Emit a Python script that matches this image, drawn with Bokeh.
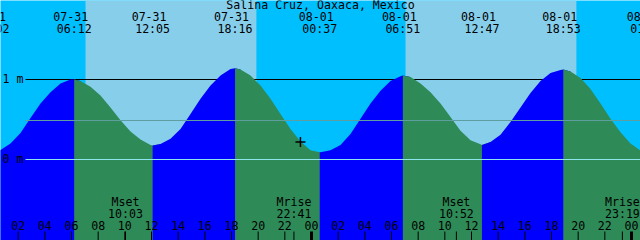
from bokeh.plotting import figure
from bokeh.models import Range1d
from bokeh.core.properties import value
from bokeh.embed import file_html
from bokeh.resources import INLINE

# ---------------- data ----------------
title = "Salina Cruz, Oaxaca, Mexico"

tide_dates = ["07-31", "07-31", "07-31", "07-31", "08-01", "08-01", "08-01", "08-01", "08-02"]
tide_times = ["00:02", "06:12", "12:05", "18:16", "00:37", "06:51", "12:47", "18:53", "01:13"]
tide_kinds = ["L", "H", "L", "H", "L", "H", "L", "H", "L"]
tide_heights = [0.095, 1.00, 0.175, 1.14, 0.09, 1.05, 0.18, 1.125, 0.09]

# tide height (m), hours counted from 07-31 00:00
curve_hours = [0.675, 1.425, 2.175, 2.925, 3.675, 4.425, 5.175, 5.925, 6.675, 7.425,
               8.175, 8.925, 9.675, 10.425, 11.175, 11.925, 12.675, 13.425, 14.175, 14.925,
               15.675, 16.425, 17.175, 17.925, 18.675, 19.425, 20.175, 20.925, 21.675, 22.425,
               23.175, 23.925, 24.675, 25.425, 26.175, 26.925, 27.675, 28.425, 29.175, 29.925,
               30.675, 31.425, 32.175, 32.925, 33.675, 34.425, 35.175, 35.925, 36.675, 37.425,
               38.175, 38.925, 39.675, 40.425, 41.175, 41.925, 42.675, 43.425, 44.175, 44.925,
               45.675, 46.425, 47.175, 47.925, 48.675]
curve_heights = [0.12, 0.20, 0.33, 0.52, 0.70, 0.84, 0.95, 1.00, 0.98, 0.91,
                 0.80, 0.65, 0.49, 0.35, 0.25, 0.18, 0.195, 0.26, 0.38, 0.57,
                 0.76, 0.925, 1.05, 1.13, 1.125, 1.05, 0.925, 0.76, 0.57, 0.38,
                 0.225, 0.115, 0.09, 0.115, 0.18, 0.32, 0.51, 0.70, 0.86, 0.98,
                 1.04, 1.03, 0.95, 0.84, 0.70, 0.53, 0.36, 0.24, 0.19, 0.22,
                 0.31, 0.47, 0.65, 0.83, 0.98, 1.08, 1.12, 1.10, 1.02, 0.88,
                 0.70, 0.51, 0.34, 0.20, 0.11]

sun_dates = ["07-31", "08-01"]
sunrise_times = ["07:03", "07:03"]
sunset_times = ["19:52", "19:52"]

moon_names = ["Mset", "Mrise", "Mset", "Mrise"]
moon_dates = ["07-31", "07-31", "08-01", "08-01"]
moon_times = ["10:03", "22:41", "10:52", "23:19"]

hour_ticks = [2, 4, 6, 8, 10, 12, 14, 16, 18, 20, 22, 24,
              26, 28, 30, 32, 34, 36, 38, 40, 42, 44, 46, 48]
hour_labels = ["02", "04", "06", "08", "10", "12", "14", "16", "18", "20", "22", "00",
               "02", "04", "06", "08", "10", "12", "14", "16", "18", "20", "22", "00"]

level_values = [1.0, 0.0]
level_labels = ["1 m", "0 m"]

now_time = 23.17
now_height = 0.22

# ---------------- helpers / layout ----------------
day_offset = {"07-30": -24, "07-31": 0, "08-01": 24, "08-02": 48}


def to_h(d, t):
    hh, mm = t.split(":")
    return day_offset[d] + int(hh) + int(mm) / 60.0


W, H = 640, 240
PXH = 40.0 / 3.0          # pixels per hour
PXM = 80.0                # pixels per metre
XMIN = 0.675
XMAX = XMIN + W / PXH
YMAX = 1.9875
YMIN = YMAX - H / PXM
TXT_SHIFT = 5.0           # baseline correction in pixels


def xpx(px):
    return XMIN + px / PXH


def ypx(py):
    return YMAX - (py - TXT_SHIFT) / PXM


def ypl(py):
    return YMAX - py / PXM


FONT = value("DejaVu Sans Mono")
FS = "11.6px"

NIGHT = "#00BFFF"
DAY = "#87CEEB"
RISE = "#0000FF"
FALL = "#2E8B57"

p = figure(width=W, height=H, x_range=Range1d(XMIN, XMAX), y_range=Range1d(YMIN, YMAX),
           output_backend="svg", toolbar_location=None, min_border=0,
           x_axis_location=None, y_axis_location=None,
           background_fill_color=NIGHT, border_fill_color=NIGHT, outline_line_color=None)
p.grid.visible = False

# daylight
rises = [to_h(d, t) for d, t in zip(sun_dates, sunrise_times)]
sets = [to_h(d, t) for d, t in zip(sun_dates, sunset_times)]
p.quad(left=rises, right=sets, bottom=YMIN, top=YMAX, fill_color=DAY, line_color=None)

# 1 m depth line (behind water)
p.segment(x0=[xpx(25)], y0=[1.0], x1=[XMAX], y1=[1.0], line_color="black", line_width=1)

# tide fill
ev_h = [to_h(d, t) for d, t in zip(tide_dates, tide_times)]
pts = sorted(list(zip(curve_hours, curve_heights)) + list(zip(ev_h, tide_heights)))
for i in range(len(ev_h) - 1):
    a, b = ev_h[i], ev_h[i + 1]
    seg = [(t, h) for t, h in pts if a <= t <= b]
    nxt = [(t, h) for t, h in pts if t > b]
    if nxt:
        seg.append(nxt[0])
    ts = [s[0] for s in seg]
    hs = [s[1] for s in seg]
    col = RISE if tide_kinds[i] == "L" else FALL
    p.varea(x=ts, y1=[YMIN] * len(ts), y2=hs, fill_color=col)

# middle line and datum line
ymid = (YMIN + YMAX) / 2
p.segment(x0=[xpx(25)], y0=[ymid], x1=[XMAX], y1=[ymid], line_color="#5F9EA0", line_width=1)
p.segment(x0=[xpx(25)], y0=[0.0], x1=[XMAX], y1=[0.0], line_color="#8EE5EE", line_width=1)

# hour ticks
tick_top = ypl(231)
norm = [t for t, l in zip(hour_ticks, hour_labels) if l != "00"]
mid = [t for t, l in zip(hour_ticks, hour_labels) if l == "00"]
p.segment(x0=norm, y0=[YMIN] * len(norm), x1=norm, y1=[tick_top] * len(norm),
          line_color="black", line_width=1)
p.segment(x0=mid, y0=[YMIN] * len(mid), x1=mid, y1=[tick_top] * len(mid),
          line_color="black", line_width=3)
moon_h = [to_h(d, t) for d, t in zip(moon_dates, moon_times)]
p.segment(x0=moon_h, y0=[YMIN] * len(moon_h), x1=moon_h, y1=[tick_top] * len(moon_h),
          line_color="black", line_width=1)

# texts
common = dict(text_font=FONT, text_font_size=FS, text_color="black",
              text_baseline="alphabetic")
p.text(x=[(XMIN + XMAX) / 2], y=[ypx(9.5)], text=[title], text_align="center", **common)
p.text(x=ev_h, y=[ypx(21)] * len(ev_h), text=tide_dates, text_align="center",
       x_offset=-3.5, **common)
p.text(x=ev_h, y=[ypx(33.3)] * len(ev_h), text=tide_times, text_align="center", **common)
p.text(x=moon_h, y=[ypx(206.7)] * len(moon_h), text=moon_names, text_align="center", **common)
p.text(x=moon_h, y=[ypx(218.3)] * len(moon_h), text=moon_times, text_align="center", **common)
p.text(x=hour_ticks, y=[ypx(230)] * len(hour_ticks), text=hour_labels, text_align="center",
       **common)
p.text(x=[xpx(2)] * len(level_values),
       y=[v - (4.0 - TXT_SHIFT) / PXM for v in level_values],
       text=level_labels, text_align="left", **common)

# current-time marker
p.scatter(x=[now_time], y=[now_height], marker="cross", size=10,
          line_color="black", line_width=1.5)

open("out.html", "w").write(file_html(p, INLINE))
